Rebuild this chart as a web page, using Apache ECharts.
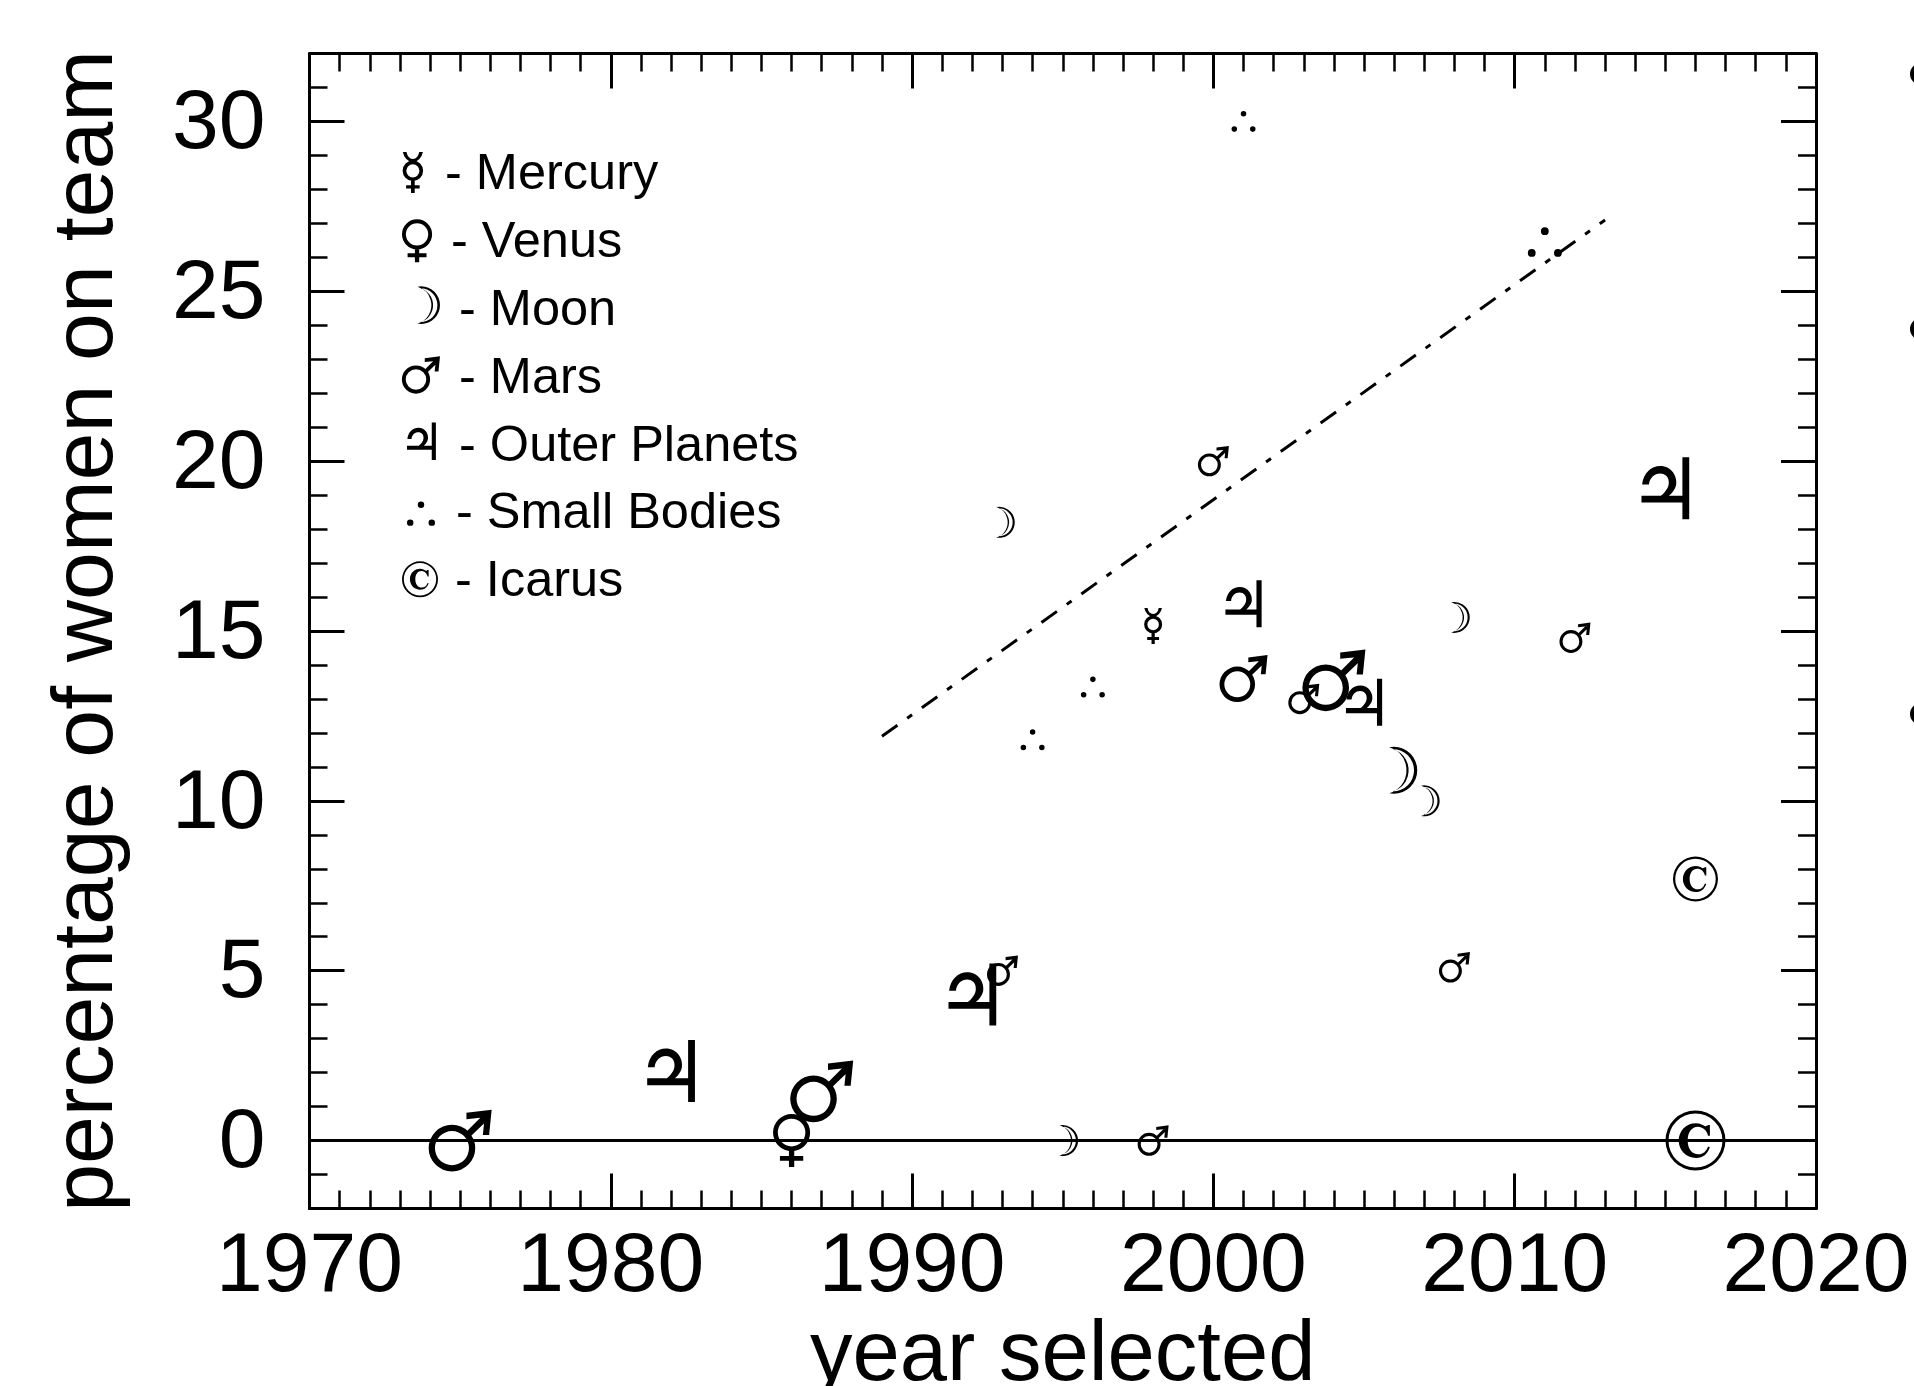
<!DOCTYPE html>
<html>
<head>
<meta charset="utf-8">
<style>
  html, body { margin: 0; padding: 0; background: #fff; }
  #chart { width: 1914px; height: 1386px; }
</style>
<script src="https://cdn.jsdelivr.net/npm/echarts@6/dist/echarts.min.js"></script>
</head>
<body>
<div id="chart"></div>
<script>
// year selected, percentage of women on team
const mercury = [[1998, 15.15]];
const venus = [[1986, 0]];
const moonSmall = [[1993.1, 18.2], [1995.2, 0], [2008.2, 15.4], [2007.2, 10]];
const moonLarge = [[2006.3, 10.9]];
const marsSmall = [[1993, 5], [1998, 0], [2000, 20], [2003, 13], [2008, 5.1], [2012, 14.8]];
const marsMedium = [[2001, 13.6]];
const marsLarge = [[1975, 0], [1987, 1.45], [2004, 13.55]];
const outerMedium = [[2001, 15.8], [2005, 12.9]];
const outerLarge = [[1982, 2.05], [1992, 4.3], [2015, 19.2]];
const smallBodiesSmall = [[1994, 11.8], [1996, 13.35], [2001, 30]];
const smallBodiesLarge = [[2011, 26.45]];
const icarusMedium = [[2016, 7.7]];
const icarusLarge = [[2016, 0]];

const fitYears = [1989, 2013];
const fitValues = [11.9, 27.1];
const zeroYears = [1970, 2020];
const zeroValues = [0, 0];

const yTicks = [0, 5, 10, 15, 20, 25, 30];
const legendNames = ['Mercury', 'Venus', 'Moon', 'Mars', 'Outer Planets', 'Small Bodies', 'Icarus'];

const FONT = 'Liberation Sans';
const ICON_W = 40;
const ICON_H = 46;

// full circle, drawn clockwise or anticlockwise so that rings keep their hole
function circle(cx, cy, r, sweep) {
  return 'M' + (cx - r) + ' ' + cy +
    'A' + r + ' ' + r + ' 0 1 ' + sweep + ' ' + (cx + r) + ' ' + cy +
    'A' + r + ' ' + r + ' 0 1 ' + sweep + ' ' + (cx - r) + ' ' + cy + 'Z';
}
function ring(cx, cy, outer, inner) {
  return circle(cx, cy, outer, 1) + circle(cx, cy, inner, 0);
}
function rect(x0, y0, x1, y1) {
  return 'M' + x0 + ' ' + y0 + 'L' + x1 + ' ' + y0 + 'L' + x1 + ' ' + y1 + 'L' + x0 + ' ' + y1 + 'Z';
}

const marsPath = ring(37, 61, 37, 27) +
  'M100 0L96 40L86 40L89 12L60 15L60 5Z' +
  'M61 34L86 9L94 16L68 41Z';
const venusPath = ring(35, 35, 35, 26) + rect(30, 66, 40, 100) + rect(13, 79, 57, 88);
const mercuryPath = ring(26.5, 46, 25, 16) + rect(22, 68, 31, 100) + rect(10, 81, 43, 89) +
  'M2 0L11 0Q14 16 26.5 17Q39 16 42 0L51 0Q47 20 26.5 26Q6 20 2 0Z';
const moonPath = 'M0 0A51 51 0 1 1 0 100A52 52 0 0 0 0 0Z' +
  'M8 96A46 46 0 1 0 8 4A48 48 0 0 1 8 96Z';
const outerPath = rect(66, 0, 77, 100) + rect(0, 62, 77, 73) +
  'M1 44C3 25 16 14 30 14C49 14 58 31 56 44C54 54 47 60 41 65L28 65C37 58 44 50 44 42C45 33 39 26 30 26C21 26 13 33 12 44Z';
const dotsPath = circle(50, 11.5, 11.5, 1) + circle(11.5, 75.5, 11.5, 1) + circle(88.5, 75.5, 11.5, 1);
const icarusPath = ring(50, 50, 50, 45) +
  'M74 24L74 42L71 42C69 33 62 27 54 27C44 27 37 36 37 50C37 64 44 73 55 73C63 73 68 68 71 60L74 61C70 72 63 79 51 79C34 79 22 66 22 50C22 34 34 21 51 21C57 21 62 24 66 26C69 26 70 25 71 24Z';

// extra empty sub-paths stretch the icon's box, so each legend glyph keeps its own size and place
function legendIcon(path, pxPerUnit, offX, offY) {
  const k = 1 / pxPerUnit;
  const a = -offX * k, b = -offY * k;
  const c = (ICON_W - offX) * k, d = (ICON_H - offY) * k;
  return 'path://' + path + 'M' + a + ' ' + b + 'L' + a + ' ' + b + 'M' + c + ' ' + d + 'L' + c + ' ' + d;
}

function glyphSeries(name, path, size, data) {
  return {
    name: name,
    type: 'scatter',
    data: data,
    symbol: 'path://' + path,
    symbolSize: size,
    symbolKeepAspect: true,
    itemStyle: { color: '#000', opacity: 1 },
    silent: true
  };
}

function lineSeries(xs, ys, type) {
  return {
    type: 'line',
    data: xs.map((x, i) => [x, ys[i]]),
    symbol: 'none',
    silent: true,
    lineStyle: { color: '#000', width: 3, type: type }
  };
}

function yAxisBase(position) {
  return {
    type: 'value',
    position: position,
    min: -2,
    max: 32,
    splitLine: { show: false },
    axisLine: { onZero: false, lineStyle: { color: '#000', width: 3 } }
  };
}
function xAxisBase(position) {
  return {
    type: 'value',
    position: position,
    min: 1970,
    max: 2020,
    interval: 10,
    splitLine: { show: false },
    axisLine: { onZero: false, lineStyle: { color: '#000', width: 3 } },
    axisTick: { inside: true, length: 35, lineStyle: { color: '#000', width: 3 } },
    minorTick: { show: true, splitNumber: 10, length: 18, lineStyle: { color: '#000', width: 2.5 } }
  };
}
// one axis per side carries the unit ticks, a second one the long ticks at 0, 5, 10 ...
function yMinor(position) {
  return Object.assign(yAxisBase(position), {
    interval: 1,
    axisLabel: { show: false },
    axisTick: { inside: true, length: 18, lineStyle: { color: '#000', width: 2.5 } }
  });
}
function yMajor(position) {
  return Object.assign(yAxisBase(position), {
    axisLine: { show: false, onZero: false },
    axisLabel: { show: false },
    axisTick: { inside: true, length: 35, customValues: yTicks, lineStyle: { color: '#000', width: 3 } }
  });
}

const legendRich = {};
[0, 6, 14, 14, 14, 11, 10].forEach((pad, i) => {
  legendRich['t' + i] = {
    fontFamily: FONT, fontSize: 50.5, color: '#000', lineHeight: 46, padding: [8, 0, 0, pad]
  };
});

const option = {
  animation: false,
  backgroundColor: '#fff',
  grid: { left: 309.5, right: 98, top: 53.5, height: 1155, outerBoundsMode: 'none' },
  legend: {
    left: 400,
    top: 142,
    orient: 'vertical',
    padding: 0,
    itemWidth: ICON_W,
    itemHeight: ICON_H,
    itemGap: 8.8,
    selectedMode: false,
    formatter: name => '{t' + legendNames.indexOf(name) + '|- ' + name + '}',
    textStyle: { rich: legendRich },
    data: [
      { name: 'Mercury', icon: legendIcon(mercuryPath, 0.41, 2, 3.5) },
      { name: 'Venus', icon: legendIcon(venusPath, 0.43, 2, 3) },
      { name: 'Moon', icon: legendIcon(moonPath, 0.38, 18, 2) },
      { name: 'Mars', icon: legendIcon(marsPath, 0.40, 2, 3.5) },
      { name: 'Outer Planets', icon: legendIcon(outerPath, 0.375, 7, 2.75) },
      { name: 'Small Bodies', icon: legendIcon(dotsPath, 0.28, 7, 14) },
      { name: 'Icarus', icon: legendIcon(icarusPath, 0.36, 2, 6) }
    ]
  },
  xAxis: [
    Object.assign(xAxisBase('bottom'), {
      name: 'year selected',
      nameLocation: 'middle',
      nameGap: 98,
      nameTextStyle: { fontFamily: FONT, fontSize: 85, color: '#000' },
      axisLabel: { margin: 17, fontFamily: FONT, fontSize: 84, color: '#000', formatter: v => String(v) }
    }),
    Object.assign(xAxisBase('top'), { axisLabel: { show: false } })
  ],
  yAxis: [
    yMinor('left'),
    Object.assign(yMajor('left'), {
      name: 'percentage of women on team',
      nameLocation: 'middle',
      nameGap: 178,
      nameTextStyle: { fontFamily: FONT, fontSize: 86, color: '#000' },
      axisLabel: {
        show: true,
        customValues: yTicks,
        margin: 44,
        formatter: v => '{v|' + v + '}',
        rich: { v: { fontFamily: FONT, fontSize: 84, color: '#000', padding: [7, 0, 0, 0] } }
      }
    }),
    yMinor('right'),
    yMajor('right')
  ],
  // clipped blobs at the right edge of the picture
  graphic: [74, 329, 714].map(y => ({
    type: 'circle',
    silent: true,
    shape: { cx: 1921, cy: y, r: 11 },
    style: { fill: '#000' }
  })),
  series: [
    lineSeries(zeroYears, zeroValues, 'solid'),
    lineSeries(fitYears, fitValues, [19, 12, 6, 12]),
    glyphSeries('Mercury', mercuryPath, 36, mercury),
    glyphSeries('Venus', venusPath, 53, venus),
    glyphSeries('Moon', moonPath, 31, moonSmall),
    glyphSeries('Moon', moonPath, 47, moonLarge),
    glyphSeries('Mars', marsPath, 31, marsSmall),
    glyphSeries('Mars', marsPath, 48, marsMedium),
    glyphSeries('Mars', marsPath, 63, marsLarge),
    glyphSeries('Outer Planets', outerPath, 47, outerMedium),
    glyphSeries('Outer Planets', outerPath, 62, outerLarge),
    glyphSeries('Small Bodies', dotsPath, 24, smallBodiesSmall),
    glyphSeries('Small Bodies', dotsPath, 34, smallBodiesLarge),
    glyphSeries('Icarus', icarusPath, 45, icarusMedium),
    glyphSeries('Icarus', icarusPath, 60, icarusLarge)
  ]
};

const myChart = echarts.init(document.getElementById('chart'));
myChart.setOption(option);
</script>
</body>
</html>
